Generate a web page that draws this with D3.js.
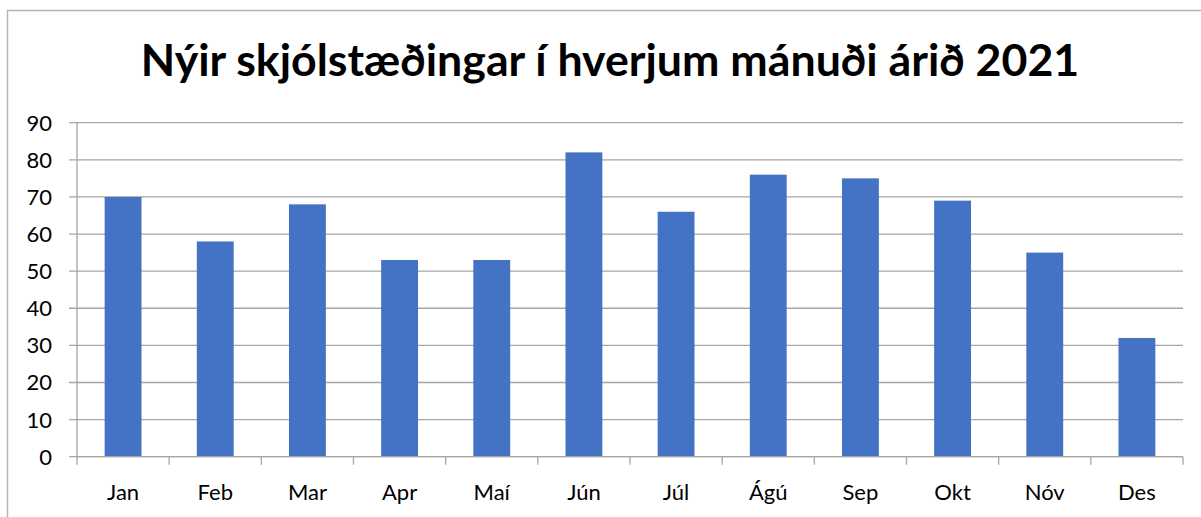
<!DOCTYPE html>
<html>
<head>
<meta charset="utf-8">
<script src="https://cdn.jsdelivr.net/npm/d3@7"></script>
<style>
  body { margin: 0; background: #fff; }
  svg { display: block; }
  text { font-family: Lato, "Open Sans", sans-serif; fill: #000; }
</style>
</head>
<body>
<svg width="1201" height="517"></svg>
<script>
// --- data ---
const months = ["Jan", "Feb", "Mar", "Apr", "Maí", "Jún", "Júl", "Ágú", "Sep", "Okt", "Nóv", "Des"];
const newClients = [70, 58, 68, 53, 53, 82, 66, 76, 75, 69, 55, 32];
const yTicks = [0, 10, 20, 30, 40, 50, 60, 70, 80, 90];
const title = "Nýir skjólstæðingar í hverjum mánuði árið 2021";

const svg = d3.select("svg");
const margin = { top: 122.7, right: 18, bottom: 60.3, left: 77 };
const W = 1201, H = 517;

// chart frame (only top + left edges visible in the crop)
svg.append("path")
    .attr("d", `M7.5,${H} L7.5,10.5 L${W},10.5`)
    .attr("fill", "none")
    .attr("stroke", "#b4b4b4")
    .attr("stroke-width", 1.5);

const x = d3.scaleBand()
    .domain(months)
    .range([margin.left, W - margin.right])
    .paddingInner(0).paddingOuter(0);

const y = d3.scaleLinear()
    .domain([0, 90])
    .range([H - margin.bottom, margin.top]);

// gridlines
svg.append("g")
    .selectAll("line")
    .data(yTicks)
    .enter().append("line")
    .attr("x1", margin.left - 8)
    .attr("x2", W - margin.right)
    .attr("y1", d => y(d))
    .attr("y2", d => y(d))
    .attr("stroke", "#a6a6a6")
    .attr("stroke-width", 1.3);

// y axis line
svg.append("line")
    .attr("x1", margin.left).attr("x2", margin.left)
    .attr("y1", y(90)).attr("y2", y(0))
    .attr("stroke", "#a6a6a6")
    .attr("stroke-width", 1.3);

// y labels
svg.append("g")
    .selectAll("text")
    .data(yTicks)
    .enter().append("text")
    .attr("x", 52)
    .attr("y", d => y(d))
    .attr("dy", "0.36em")
    .attr("text-anchor", "end")
    .style("font-size", "22px")
    .text(d => d);

// bars
const barW = x.bandwidth() * 0.4;
svg.append("g")
    .selectAll("rect")
    .data(newClients)
    .enter().append("rect")
    .attr("x", (d, i) => x(months[i]) + (x.bandwidth() - barW) / 2)
    .attr("y", d => y(d))
    .attr("width", barW)
    .attr("height", d => y(0) - y(d))
    .attr("fill", "#4472c4");

// x axis with category ticks on band edges
const xAxis = svg.append("g");
xAxis.append("line")
    .attr("x1", margin.left).attr("x2", W - margin.right)
    .attr("y1", y(0)).attr("y2", y(0))
    .attr("stroke", "#a6a6a6")
    .attr("stroke-width", 1.3);
const edges = months.map(m => x(m)).concat([W - margin.right]);
xAxis.selectAll(".tick")
    .data(edges)
    .enter().append("line")
    .attr("class", "tick")
    .attr("x1", d => d).attr("x2", d => d)
    .attr("y1", y(0)).attr("y2", y(0) + 8)
    .attr("stroke", "#a6a6a6")
    .attr("stroke-width", 1.3);
xAxis.selectAll("text")
    .data(months)
    .enter().append("text")
    .attr("x", d => x(d) + x.bandwidth() / 2)
    .attr("y", 499.5)
    .attr("text-anchor", "middle")
    .style("font-size", "22px")
    .text(d => d);

// title, sized to span the same width as the original
const t = svg.append("text")
    .attr("x", 610)
    .attr("y", 76)
    .attr("text-anchor", "middle")
    .style("font-size", "40px")
    .style("font-weight", "bold")
    .text(title);
const w = t.node().getComputedTextLength();
t.style("font-size", (40 * 939 / w).toFixed(1) + "px");
</script>
</body>
</html>
